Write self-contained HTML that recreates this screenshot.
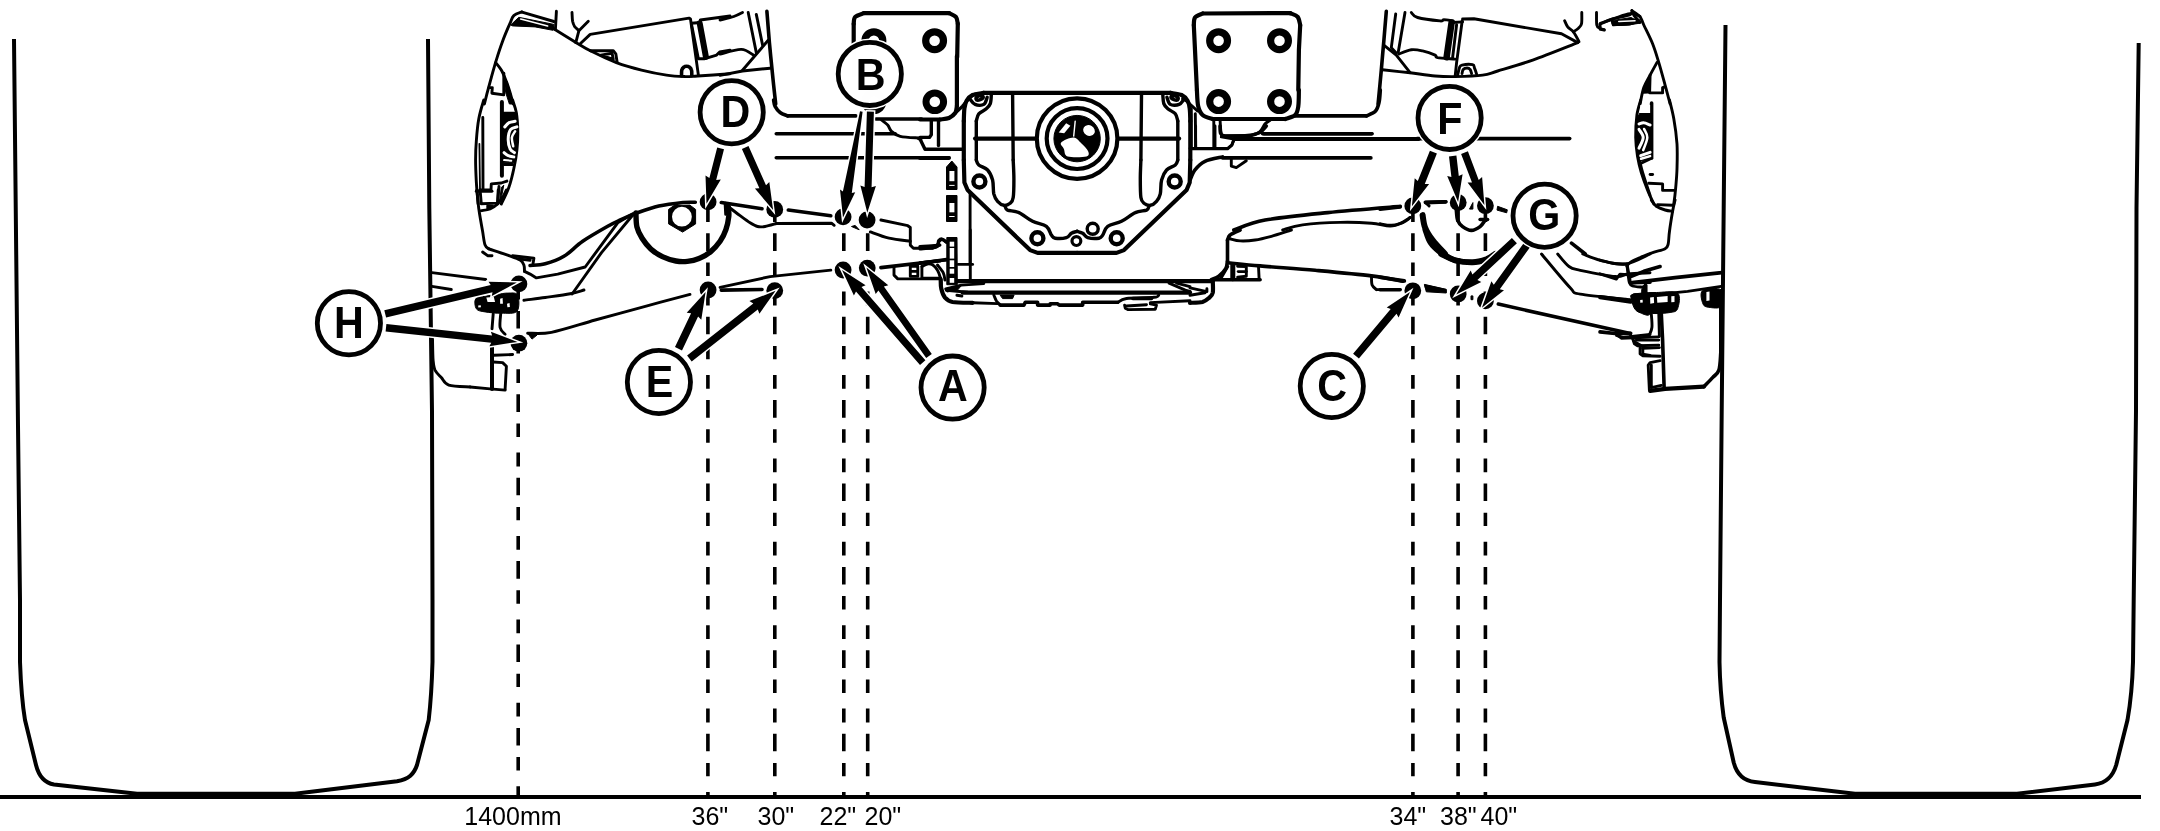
<!DOCTYPE html>
<html>
<head>
<meta charset="utf-8">
<title>Axle tread positions</title>
<style>
html,body{margin:0;padding:0;background:#fff;}
body{width:2160px;height:831px;overflow:hidden;font-family:"Liberation Sans",sans-serif;}
svg{display:block;position:absolute;left:0;top:0;}
.t{fill:none;stroke:#000;stroke-width:4;stroke-linejoin:round;stroke-linecap:butt;}
.k{fill:none;stroke:#000;stroke-width:3.6;stroke-linejoin:round;stroke-linecap:round;}
.m{fill:none;stroke:#000;stroke-width:2.9;stroke-linejoin:round;stroke-linecap:round;}
.K{fill:none;stroke:#000;stroke-width:4.2;stroke-linejoin:round;stroke-linecap:round;}
.M{fill:none;stroke:#000;stroke-width:3.4;stroke-linejoin:round;stroke-linecap:round;}
.n{fill:none;stroke:#000;stroke-width:1.8;stroke-linejoin:round;stroke-linecap:round;}
.d{fill:none;stroke:#000;stroke-width:3.6;stroke-dasharray:17.6 11.6 13.4 15.7 13.8 11.3;}
.c{fill:#fff;stroke:#000;stroke-width:4.8;}
.L{font-family:"Liberation Sans",sans-serif;font-weight:bold;font-size:43.6px;text-anchor:middle;fill:#000;}
.lb{font-family:"Liberation Sans",sans-serif;font-size:25px;fill:#000;}
.a{fill:none;stroke:#000;stroke-width:5;stroke-linecap:butt;}
.h{fill:#000;stroke:none;}
.ar{fill:#000;stroke:#fff;stroke-width:3;paint-order:stroke;stroke-linejoin:miter;}
.f{fill:#000;stroke:#000;stroke-width:1;stroke-linejoin:round;}
.w{fill:none;stroke:#fff;stroke-width:1.6;stroke-linecap:round;}
.wf{fill:#fff;stroke:none;}
</style>
</head>
<body>
<svg width="2160" height="831" viewBox="0 0 2160 831">
<defs><filter id="gs" x="0" y="0" width="100%" height="100%" filterUnits="userSpaceOnUse" color-interpolation-filters="sRGB"><feColorMatrix type="saturate" values="0"/></filter></defs>
<!-- ground -->
<g id="ground">
<line x1="0" y1="797" x2="2141" y2="797" stroke="#000" stroke-width="3.9"/>
</g>
<!-- tires -->
<g id="tires">
<path class="t" d="M14 39 L18 426 L20 600 L20 662 C21 690 23 708 25 720 L36 765 C39 777 45 783 54 784.5 L137 793.8 L295 793.8 L397 781.3 C409 779 414 774 417 765 L428.7 720 C431 700 432 680 432.5 662 L432.5 600 L432 411 L429.3 208 L428 39"/>
<path class="t" d="M1725.5 25 L1723.7 208 L1721.7 411 L1720 600 L1719.5 662 C1720 690 1722 705 1723.7 717.5 L1733.7 762.5 C1737 775 1744 781 1755 782 L1855 793.8 L2017 793.8 L2095 784.5 C2106 783 2113 776 2116.2 765 L2127.5 720 C2131 700 2132.5 680 2133 662 L2133.7 600 L2136 411 L2136.5 208 L2138.7 43"/>
</g>
<!-- AXLE-BEGIN -->
<g id="axle">
<path class="m" d="M522 11.9 C520.6 12.5 515.8 13.8 513.8 15.6 C511.8 17.5 511.9 18.9 510.1 23.2 C508.2 27.4 504.8 35.1 502.6 41.3 C500.3 47.5 498.2 54 496.3 60.1 C494.4 66.1 492.9 72 491.3 77.6 C489.7 83.2 488.1 89.5 486.9 93.9 C485.8 98.3 484.8 102.3 484.4 104"/>
<path class="m" d="M522 12.1 L553.9 21.5"/>
<path class="f" d="M510.7 25 L518.8 17.3 L553.9 24.4 L552.9 30.3 L535.1 26.9 L512.6 25.9Z"/>
<path class="w" d="M520.7 19 L547.6 26"/>
<path class="m" d="M556.4 11.3 L555.4 29.4"/>
<path class="m" d="M572 12.5 C572.1 14 572.2 19 572.6 21.3 C573.1 23.6 573.5 24.7 574.5 26.3 C575.6 27.8 578.2 29.9 578.9 30.7"/>
<path class="m" d="M588.3 21.3 L578.9 30.7 L575.8 42.6"/>
<path class="m" d="M552.9 28.2 C556.6 30.5 568.7 38.1 575.1 41.9 C581.6 45.8 584.5 47.9 591.4 51.3 C598.3 54.8 608.1 59.4 616.4 62.6 C624.8 65.7 633.1 68 641.5 70.1 C649.8 72.2 659.2 74 666.5 75.1 C673.8 76.2 680.1 76.4 685.3 76.6 C690.5 76.7 690.4 76.4 697.8 76 C705.2 75.5 724.6 74.2 730 73.8"/>
<path class="m" d="M580.2 43.8 L590.2 34.4 L689 18.1 L690.5 19 L698.4 75.1"/>
<path class="m" d="M590.2 50.7 L613.3 50.7 L615.8 53.8 L617.1 62"/>
<path class="m" d="M600.8 55.1 L612.1 53.2 L613.3 59.4Z"/>
<path class="k" d="M681.5 75.7 C681.6 74.8 681.4 71.5 681.8 70.1 C682.2 68.6 683.2 67.6 684 67 C684.8 66.3 685.7 66.3 686.5 66.3 C687.4 66.3 688.5 66.3 689.3 67 C690.1 67.6 691.1 68.6 691.5 70.1 C692 71.5 691.7 74.8 691.8 75.7"/>
<path class="m" d="M691.5 23.2 L700.3 22.5"/>
<path class="m" d="M700.3 20 L730 16"/>
<path class="m" style="stroke-width:6" d="M699.7 23.2 L705.9 56.9"/>
<path class="m" d="M691.5 24.4 L698.4 58.8 L704.1 58.8 L716.6 55.1 L719.7 51.9 L730 50.1"/>
<path class="m" d="M495.7 62.6 C496.6 63.8 499.5 67 501.3 70.1 C503.1 73.2 504.8 77.6 506.3 81.4 C507.8 85.1 508.9 88.8 510.1 92.6 C511.2 96.4 512.7 102.1 513.2 104"/>
<path class="f" d="M503.8 75.1 L506.9 81.4 L510.7 93.2 L513.2 104 L509.4 104 L505.7 92.6Z"/>
<path class="m" d="M489 87.6 L492.3 87.6 L491.9 93.2 L503.8 94.9"/>
<path class="m" d="M503.8 73.2 L503.8 93.2"/>
<path class="m" d="M483.8 100 C482.9 103.1 480 111.9 478.8 118.8 C477.5 125.7 476.8 134.4 476.3 141.3 C475.7 148.2 475.6 153.4 475.6 160.1 C475.6 166.8 475.9 174 476.3 181.4 C476.7 188.7 477.8 200.2 478.1 204"/>
<path class="n" d="M479.4 143.8 L480 189.5"/>
<path class="m" d="M482.8 117.5 L483 189.5"/>
<path class="m" d="M512.6 100 C513.2 102.1 515.4 107.3 516.3 112.5 C517.2 117.7 517.7 125 517.8 131.3 C517.9 137.5 517.6 143.8 516.9 150.1 C516.3 156.3 515.2 162.6 513.8 168.8 C512.5 175.1 510.9 181.7 508.8 187.6 C506.7 193.5 502.6 201.3 501.3 204"/>
<path class="m" style="stroke-width:4" d="M501.9 101.9 L501.9 175.7"/>
<path class="f" d="M501.9 113.1 L516.9 113.1 L518.2 131.3 L516.9 150.1 L515.1 162.6 L501.9 162.6Z"/>
<path class="wf" d="M504.1 107.5 L512.6 107.5 L515.1 113.1 L504.1 113.1Z"/>
<path class="m" d="M504.1 113.1 L515.1 113.1"/>
<path class="w" style="stroke-width:3" d="M515.1 121.3 C514 121.5 510.5 121.8 508.8 122.8 C507.1 123.7 505.5 126.2 504.8 126.9"/>
<path class="w" style="stroke-width:3" d="M516.9 126.9 C515.9 127.3 512.1 127.4 510.7 129.4 C509.2 131.4 508.3 135.6 508.2 138.8 C508.1 142 509 146.5 510.1 148.8 C511.1 151.1 513.7 151.9 514.4 152.6"/>
<path class="w" style="stroke-width:2.5" d="M515.1 131.3 C514.5 132.3 512.3 135 511.9 137.5 C511.6 140.1 513 144.8 513.2 146.3"/>
<path class="w" style="stroke-width:3" d="M504.1 152.6 C504.7 153.1 506.6 155 508.2 155.7 C509.8 156.4 512.9 156.7 513.8 156.9"/>
<path class="w" style="stroke-width:2" d="M504.1 160.1 L511.3 160.7"/>
<path class="m" d="M504.1 164.5 L512.6 164.5"/>
<path class="m" d="M480 189.9 L491 189.9 L491.3 183.9 L501.3 183 L506.9 181.1"/>
<path class="m" d="M499 186.4 L497.5 204"/>
<path class="f" d="M501.3 187.6 L503.8 185.1 L501.9 195.1 L499.4 202.6Z"/>
<path class="m" d="M476.9 190 C477.3 193.1 477.9 201.9 478.8 208.8 C479.8 215.7 481.5 225.3 482.6 231.3 C483.6 237.4 484 242.1 485.1 245.1 C486.1 248 488.2 248.2 488.8 248.8"/>
<path class="m" d="M488.8 248.8 C492 249.9 502.4 253.2 507.6 255.1 C512.8 257 517.4 258.4 520.1 260.1 C522.8 261.8 523.1 263.2 523.9 265.1 C524.6 267 524.4 270.3 524.5 271.4"/>
<path class="m" d="M524.5 271.4 L530.1 274.1 L536.4 277.9 L557.7 274.1 L585.2 267 L617.7 222.8 L632.8 213.8"/>
<path class="m" d="M476.3 191.3 L492 191.3"/>
<path class="m" d="M480.1 190 L481.3 203.8 L497.6 203.1 L498.2 190"/>
<path class="m" d="M481.3 210.7 C482.8 210.4 487.4 210.1 490.1 209 C492.8 207.9 495.5 205.9 497.6 204 C499.7 202.1 501.1 199.8 502.6 197.5 C504.1 195.2 505.7 191.3 506.4 190"/>
<path class="m" d="M487.6 206.3 L492.6 206.3 L487.6 208.1"/>
<path class="m" d="M482.6 252 L487.6 255.7 L492 255.7"/>
<path class="m" d="M512.6 255.7 L533.9 258.2 L533 263.8"/>
<path class="m" d="M520.1 259.1 L530.1 260.3"/>
<path class="k" d="M530.1 265.5 C532.6 265.2 539.5 265.4 545.2 263.8 C550.8 262.3 557.7 260.1 563.9 256.3 C570.2 252.6 575.4 246.3 582.7 241.3 C590 236.3 601.5 229.8 607.7 226.3 C614 222.7 615.5 222.2 620.3 220 C625 217.9 629.7 215.6 636.1 213.3 C642.6 211 651 207.9 658.8 206.1 C666.6 204.4 676.9 203.2 683 202.5 C689 201.9 693.3 202.3 695.3 202.3"/>
<path class="m" d="M632.8 215 L601.5 252.6 L572.1 294"/>
<path class="m" d="M431.9 272.6 L485.7 279.5"/>
<path class="m" d="M431.9 286.4 L451.3 289.5"/>
<path class="m" d="M523.9 300.3 C527.4 299.8 537.4 298.6 545.2 297.5 C552.9 296.4 563.7 295 570.2 293.8 C576.7 292.5 581.7 290.6 584 290"/>
<path class="m" d="M527.6 333.2 C531.6 333 540.2 334.5 551.4 332.3 C562.7 330.1 579.6 324.4 595.2 320 C610.9 315.7 629.5 310.5 645.3 306.3 C661.1 302 682.5 296.4 690 294.4"/>
<path class="f" d="M527.6 333.2 L537 335.1 L532 339.1Z"/>
<path class="f" d="M475.7 298.8 C477.2 296.7 481.4 297 485.1 296.3 C488.7 295.5 493.8 294.9 497.6 294.4 C501.4 293.9 504.3 293 507.6 293.1 C510.9 293.2 516.1 292 517.6 295 C519.2 298 519.7 308.3 517 311.3 C514.3 314.3 506.7 313 501.4 313.2 C496 313.3 489.3 312.6 485.1 311.9 C480.9 311.2 477.9 311 476.3 308.8 C474.8 306.6 474.2 300.8 475.7 298.8Z"/>
<path class="wf" d="M486.3 297.5 L493.8 296.9 L495.1 301.9 L487.6 301.9Z"/>
<path class="wf" d="M500.1 298.8 L502.6 298.1 L502.9 303.8 L500.1 303.8Z"/>
<path class="wf" d="M507 303.8 L509.5 303.1 L509.9 306.9 L507.4 307.3Z"/>
<path class="wf" d="M478.2 305.6 L480.7 305.3 L481 307.3 L478.3 307.5Z"/>
<path class="m" d="M493.2 313.8 L492 328.8"/>
<path class="m" d="M500.7 313.8 C500.6 316.1 499.4 324.1 500.1 327.5 C500.8 331 504.3 333.3 505.1 334.4"/>
<path class="m" style="stroke-width:4" d="M492 347.3 L492 388.9"/>
<path class="m" d="M493.8 355.3 L512.6 354.5"/>
<path class="m" d="M493.2 362 L502.6 362.6 L506.4 366.3 L505.1 389.5"/>
<path class="m" d="M432.5 338.8 C432.6 342.4 432.7 354.9 433.1 360.1 C433.6 365.3 433.7 367.2 435 370.1 C436.4 373 439 375.1 441.3 377.6 C443.6 380.1 444 383.6 448.8 385.1 C453.6 386.7 466.5 386.7 470.1 387"/>
<path class="m" d="M470.1 387 L490.1 388.9 L505.1 390.1"/>
<path class="k" d="M721.3 202.5 L762 208.8"/>
<path class="m" d="M725.1 203.1 L725.7 214.4"/>
<path class="m" d="M729.4 207.5 C731.2 208.9 736.6 213.1 740.1 215.7 C743.5 218.2 747.2 221 750.1 222.8 C753 224.6 755.1 225.9 757.6 226.5 C760.1 227.2 762 227 765.1 226.5 C768.2 226 774.5 224 776.4 223.5"/>
<path class="m" d="M776.4 223.5 L831.5 223.2 L834.2 225.3"/>
<path class="k" d="M788.3 210 L830.8 215.7"/>
<path class="m" d="M880.9 220 L907.8 225.7 L910.3 227.5 L910.3 245.1 L913.4 248.2 L932.8 248.2 L940 245.1"/>
<path class="m" d="M870.3 231.9 C873.4 233 882.3 236.6 889 238.2 C895.7 239.7 906.8 240.8 910.3 241.3"/>
<path class="f" d="M851.5 226.5 L855.2 225.4 L859.2 229.8Z"/>
<path class="k" d="M880.9 267.6 L940 260.7"/>
<path class="m" d="M894 267 L894 275.1 L897.8 278.9 L940 278.9"/>
<path class="m" d="M910.3 266.3 L917.8 266.3 L917.8 276.4 L910.3 276.4Z"/>
<path class="m" d="M910.9 271.4 L917.2 271.4"/>
<path class="m" d="M720.1 287.4 L770.1 276.6 L830.8 270.1"/>
<path class="k" d="M721.3 290.1 L762 289.5"/>
<path class="K" d="M983.2 92.9 L1170.9 92.9"/>
<path class="K" d="M983.8 92.9 C982 93.3 975.4 93.7 972.6 95 C969.7 96.4 967.9 98.6 966.6 100.8 C965.2 103.1 964.9 105.2 964.4 108.6 C964 111.9 963.9 119 963.8 121.1"/>
<path class="K" d="M1170.3 92.9 C1172.2 93.3 1178.7 93.7 1181.6 95 C1184.5 96.4 1186.2 98.6 1187.6 100.8 C1188.9 103.1 1189.3 105.2 1189.7 108.6 C1190.2 111.9 1190.2 119 1190.3 121.1"/>
<path class="K" d="M963.8 121.1 L963.8 160"/>
<path class="K" d="M1190.3 121.1 L1190.3 160"/>
<path class="M" d="M991.3 94.8 C991.2 96.3 991.2 101.2 990.3 103.6 C989.5 105.9 988.3 107.1 986.3 108.8 C984.4 110.5 980.5 111.8 978.8 113.8 C977.2 115.9 976.7 119.9 976.3 121.1"/>
<path class="M" d="M1162.8 94.8 C1163 96.3 1163 101.2 1163.8 103.6 C1164.6 105.9 1165.9 107.1 1167.8 108.8 C1169.7 110.5 1173.7 111.8 1175.3 113.8 C1177 115.9 1177.4 119.9 1177.8 121.1"/>
<path class="M" d="M976.3 121.1 L976.3 160"/>
<path class="M" d="M1177.8 121.1 L1177.8 160"/>
<path class="M" d="M970.1 99.2 C970.9 100.1 972.8 103.6 975.1 104.4 C977.4 105.3 981.8 105.6 983.8 104.4 C985.9 103.2 986.6 98.5 987.2 97.3"/>
<path class="M" d="M1184.1 99.2 C1183.2 100.1 1181.4 103.6 1179.1 104.4 C1176.8 105.3 1172.3 105.6 1170.3 104.4 C1168.3 103.2 1167.5 98.5 1166.9 97.3"/>
<ellipse class="M" cx="979.6" cy="97.8" rx="3.8" ry="2" transform="rotate(-20 979.6 97.8)"/>
<ellipse class="M" cx="1174.6" cy="97.8" rx="3.8" ry="2" transform="rotate(20 1174.6 97.8)"/>
<path class="M" d="M1012.6 94.8 L1013.2 160"/>
<path class="M" d="M1141.5 94.8 L1140.9 160"/>
<path class="K" d="M975.1 138.6 L1035.8 138.6"/>
<path class="K" d="M1179.1 138.6 L1118.4 138.6"/>
<circle class="K" cx="1077.1" cy="138.6" r="40.3"/>
<circle class="K" cx="1077.1" cy="138.6" r="30.4"/>
<circle class="f" cx="1077.1" cy="138.6" r="23.2"/>
<ellipse class="wf" cx="1089" cy="130.5" rx="6" ry="5.3" transform="rotate(30 1089 130.5)"/>
<path class="wf" d="M1058.7 132.6 L1066.2 123.3 L1070.4 125.8 L1064.2 133.3Z"/>
<path class="wf" d="M1061.2 142.6 C1062.8 140.7 1070.3 137.4 1073.7 137.6 C1077.1 137.8 1079.1 141.4 1081.5 143.6 C1083.8 145.9 1087.1 149 1088 151.1 C1088.8 153.2 1089.8 155.5 1086.5 156.4 C1083.1 157.3 1071.4 157.6 1067.7 156.4 C1063.9 155.1 1065 151.2 1063.9 148.9 C1062.8 146.6 1059.5 144.5 1061.2 142.6Z"/>
<path class="w" style="stroke-width:1.4" d="M1075.2 121.1 L1073.7 136.1"/>
<path class="K" d="M956.9 56 L956.9 106.1"/>
<path class="K" d="M956.9 106.1 C956.6 107.2 956.6 111 955.3 112.9 C954 114.9 951.6 116.9 949 118 C946.5 119 941.5 119.2 940 119.5"/>
<path class="K" d="M940 119.5 L920 119.5"/>
<circle class="m" style="stroke-width:7" cx="934.8" cy="101.7" r="8.8"/>
<path class="M" d="M952.8 115.1 C954.4 113.6 959.7 109.1 962.6 106.1 C965.4 103 968 98.9 970.1 96.9 C972.1 95 974.2 94.7 975.1 94.3"/>
<path class="M" d="M931.3 121.1 L931.3 134.8 L929.4 137.4 L920 137.4"/>
<path class="M" d="M938.5 121.1 L938.5 145.5"/>
<path class="M" d="M920 138.9 L925 149.2 L963.2 149.2"/>
<path class="K" d="M920 158 L948.8 158"/>
<path class="K" d="M963.8 160 L964.4 182.5 L967.6 190 L1030.1 250.1 L1037.6 252.9 L1077.1 252.9"/>
<path class="K" d="M1190.3 160 L1189.7 182.5 L1186.6 190 L1124 250.1 L1116.5 252.9 L1077.1 252.9"/>
<path class="M" d="M976.3 160 C976.7 160.8 976.9 163.3 978.8 165 C980.7 166.7 985.3 167.5 987.6 170 C989.9 172.5 991.5 176.1 992.6 180 C993.6 184 993 190.2 993.8 193.8 C994.7 197.3 995.9 199.4 997.6 201.3 C999.3 203.2 1001.8 205 1003.9 205.3 C1005.9 205.6 1008.5 204.5 1010.1 203.2 C1011.7 201.9 1012.6 201.6 1013.2 197.5 C1013.9 193.5 1013.9 185 1013.9 178.8 C1013.9 172.5 1013.3 163.1 1013.2 160"/>
<path class="M" d="M1177.8 160 C1177.4 160.8 1177.2 163.3 1175.3 165 C1173.4 166.7 1168.9 167.5 1166.6 170 C1164.3 172.5 1162.6 176.1 1161.6 180 C1160.5 184 1161.1 190.2 1160.3 193.8 C1159.5 197.3 1158.2 199.4 1156.5 201.3 C1154.9 203.2 1152.4 205 1150.3 205.3 C1148.2 205.6 1145.6 204.5 1144 203.2 C1142.5 201.9 1141.5 201.6 1140.9 197.5 C1140.3 193.5 1140.3 185 1140.3 178.8 C1140.3 172.5 1140.8 163.1 1140.9 160"/>
<path class="M" d="M1005.1 206.3 C1005.5 206.9 1005.3 209 1007.6 210.1 C1009.9 211.1 1014.7 210.7 1018.9 212.6 C1023 214.4 1028.1 219 1032.6 221.3 C1037.2 223.6 1043.3 224 1046.4 226.3 C1049.5 228.6 1050 233.1 1051.4 235.1 C1052.9 237.1 1052.7 237.8 1055.2 238.2 C1057.7 238.6 1063.7 238.4 1066.4 237.6 C1069.1 236.8 1069.7 234.3 1071.4 233.2 C1073.2 232.2 1076.1 231.7 1077.1 231.3"/>
<path class="M" d="M1149 206.3 C1148.6 206.9 1148.8 209 1146.5 210.1 C1144.2 211.1 1139.4 210.7 1135.3 212.6 C1131.1 214.4 1126.1 219 1121.5 221.3 C1116.9 223.6 1110.9 224 1107.7 226.3 C1104.6 228.6 1104.2 233.1 1102.7 235.1 C1101.3 237.1 1101.5 237.8 1099 238.2 C1096.5 238.6 1090.4 238.4 1087.7 237.6 C1085 236.8 1084.5 234.3 1082.7 233.2 C1080.9 232.2 1078 231.7 1077.1 231.3"/>
<circle class="m" style="stroke-width:4.4" cx="979.4" cy="181.5" r="6"/>
<circle class="m" style="stroke-width:4.4" cx="1174.7" cy="181.5" r="6"/>
<circle class="m" style="stroke-width:4.4" cx="1037.4" cy="238.2" r="6"/>
<circle class="m" style="stroke-width:4.4" cx="1116.7" cy="238.2" r="6"/>
<circle class="m" style="stroke-width:3.2" cx="1076.4" cy="241.1" r="4.4"/>
<circle class="m" style="stroke-width:3.4" cx="1092.7" cy="228.8" r="5.5"/>
<path class="m" d="M970.1 193.2 L970.1 264"/>
<path class="M" d="M920 246.6 C922.7 246.4 933.1 246.3 936.3 245.4 C939.4 244.4 937.8 241.8 938.8 240.7 C939.7 239.7 940.6 238.9 941.9 239.1 C943.2 239.3 945.8 241.5 946.5 242"/>
<path class="M" d="M920 263.3 L946.5 259.5"/>
<path class="K" d="M957.5 281.1 L1190 281.1"/>
<path class="K" d="M962.6 292.6 L1190 292.6"/>
<path class="K" d="M940.7 279.4 C940.8 281 940.5 285.8 941.3 288.8 C942 291.8 943.2 295.4 945 297.6 C946.9 299.8 948 301.1 952.5 302 C957.1 302.8 969.2 302.7 972.6 302.8"/>
<path class="m" d="M972.6 302.8 L997.6 303.6"/>
<path class="m" d="M945.7 288.8 L961.3 285.1 L983.8 283.6"/>
<path class="m" d="M946.3 290.3 L967.6 292.2"/>
<path class="f" d="M946.9 288.8 L961.3 285.7 L957.5 290.1 L946.9 292Z"/>
<path class="m" d="M956.9 295.3 L961.9 296"/>
<path class="m" d="M993.8 295.1 C994.3 296 995.3 299.1 996.3 300.7 C997.4 302.3 999.5 304.2 1000.1 304.8"/>
<path class="k" d="M1000.1 305.1 L1023.9 305.1 L1025.4 302.2 L1037.6 302.2 L1037.6 305.1 L1050.2 305.1 L1050.2 303.8 L1057.7 303.8 L1059.2 305.1 L1082.7 305.1 L1082.7 302.2 L1117.7 302.2"/>
<path class="f" d="M1000.1 295.1 L1002.6 298.6 L1012.6 298.6 L1014.1 295.1Z"/>
<path class="m" d="M1117.7 302.6 C1119.2 301.9 1120.5 299.3 1126.5 298.5 C1132.6 297.6 1148.7 297.9 1154 297.3 C1159.4 296.8 1157.9 295.5 1158.7 295.1"/>
<path class="k" d="M1132.8 298.5 L1151.5 298.5"/>
<path class="m" d="M1124.6 305.1 L1125.3 308.2 L1127.8 309.6 L1155.3 309.2 L1156.5 305.1 L1150.3 303.8"/>
<path class="m" d="M1126.5 306 L1146.5 304.7"/>
<path class="m" d="M1150.3 302.6 L1190 300.7"/>
<path class="m" d="M1169.1 283.2 L1185.3 290.1 L1190 291.3"/>
<path class="m" d="M1176.6 283.2 L1190 286.6"/>
<path class="m" d="M920 249 C922.7 248.7 933.1 248.3 936.3 247.1 C939.4 246 937.8 243.1 938.8 241.9 C939.7 240.6 940.6 239.6 941.9 239.6 C943.2 239.7 945.8 241.8 946.5 242.3"/>
<path class="m" d="M920 262.8 L932.5 261.5 L946.5 260"/>
<path class="m" d="M940.7 278.2 L921.9 278.2 L921.9 266.5"/>
<path class="m" d="M921.9 266.5 C922.8 266.1 925.7 264.3 927.5 264 C929.3 263.8 930.8 263.8 932.5 264.8 C934.2 265.8 936.2 268 937.5 270.3 C938.9 272.6 940 276.3 940.7 278.8 C941.3 281.3 941.2 284 941.3 285.1"/>
<path class="m" d="M937.5 265 C938.5 266.3 941.9 270.1 943.2 272.6 C944.4 275.1 944.7 278.8 945 280.1"/>
<path class="m" d="M958.2 264.4 L972.6 264.4"/>
<path class="m" d="M970.3 230 L970.3 280.1"/>
<path class="K" d="M1190 281.1 L1212.8 281.1"/>
<path class="K" d="M1212.8 281.3 C1212.8 283.2 1213.3 289.9 1212.8 292.6 C1212.2 295.3 1211.1 296 1209.4 297.6 C1207.7 299.1 1205.7 301.1 1202.5 302 C1199.3 302.8 1192.1 302.7 1190 302.8"/>
<path class="m" d="M1190 287.8 L1206.9 291.6 L1206.9 288.8"/>
<path class="m" d="M1190 295.3 L1205 292.8"/>
<path class="k" d="M1211.3 279.7 C1212.5 279.1 1216.4 278.1 1218.8 276.3 C1221.2 274.5 1224.2 271.3 1225.7 268.8 C1227.1 266.3 1227.2 262.5 1227.5 261.3"/>
<path class="k" d="M1227.5 261.3 L1227.5 240"/>
<path class="k" d="M1227.5 240 C1228 239.2 1228 236.7 1230.1 235 C1232.1 233.3 1238.4 230.8 1240.1 230"/>
<path class="m" d="M1230.1 238.8 C1231.7 239.1 1235.9 240.7 1240.1 240.9 C1244.2 241.1 1249.9 240.8 1255.1 240 C1260.3 239.2 1265.3 237.9 1271.4 236.3 C1277.4 234.6 1288 231 1291.4 230"/>
<path class="k" d="M1227.5 262.8 C1233 263.3 1245.5 264.7 1260.1 265.9 C1274.7 267.2 1296.6 268.6 1315.2 270.3 C1333.7 272 1356.9 274.1 1371.5 275.9 C1386.1 277.8 1397.6 280.4 1402.8 281.3"/>
<path class="m" d="M1221.3 277.8 L1227.8 266.5"/>
<path class="m" style="stroke-width:5" d="M1232.8 264.4 L1232.8 278.8"/>
<path class="m" d="M1237.6 266.3 L1246.3 266.5 L1246.3 276.3 L1237.6 277.1"/>
<path class="m" d="M1238.2 271.6 L1246.3 271.6"/>
<path class="m" d="M1258.5 266.3 L1259.1 278.6"/>
<path class="k" d="M1213.8 279.7 L1260.1 279.7"/>
<path class="m" d="M1371.5 276.3 C1371.6 277.8 1371.3 282.9 1372.1 285.1 C1372.9 287.3 1375.8 288.8 1376.5 289.6"/>
<path class="m" d="M1376.5 289.6 L1400.3 289.6"/>
<path class="f" d="M1424.7 284.8 L1445.9 289.4 L1445.9 292.3 L1425.3 287.8Z"/>
<path class="m" style="stroke-width:5.5" d="M1425.3 230 C1426.1 232.1 1427.8 238.8 1430.3 242.5 C1432.8 246.3 1436.6 249.7 1440.3 252.5 C1444.1 255.3 1449.6 258 1452.8 259.4 C1456.1 260.9 1458.8 261 1460 261.3"/>
<path class="k" d="M1263.8 133.8 L1372.1 133.8"/>
<path class="k" d="M1233.8 139.1 L1419 139.1"/>
<path class="k" d="M1222.5 157.9 L1370.9 157.9"/>
<path class="k" d="M1190 180.1 C1190.8 178.4 1192.5 172.9 1195 169.8 C1197.5 166.7 1200.4 163.4 1205 161.3 C1209.6 159.1 1219.6 157.6 1222.5 156.9"/>
<path class="m" d="M1231.3 159.2 L1231.3 166.1 L1236.3 167.6 L1246.3 160.7"/>
<path class="k" d="M1220 126 C1220.1 127.3 1220 131.8 1220.7 133.5 C1221.3 135.2 1223.3 135.6 1223.8 136"/>
<path class="k" d="M1223.8 136 L1250.1 135.8"/>
<path class="k" d="M1250.1 135.8 C1251.7 135.2 1257.4 133.9 1260.1 132.3 C1262.8 130.6 1265.3 127 1266.3 126"/>
<path class="m" d="M1190 148.5 L1227.5 148.5 L1231.9 144.8 L1233.8 139.5"/>
<path class="m" d="M1221.3 136.9 L1232.6 138.8"/>
<path class="m" d="M1195.6 126 L1195.6 147.5"/>
<path class="m" d="M1215 126 L1215 147.5"/>
<path class="k" d="M1233.8 230 C1239 228.4 1249.4 223 1265.1 220.1 C1280.7 217.2 1305.1 214.9 1327.7 212.6 C1350.2 210.3 1388.2 207.4 1400.3 206.4"/>
<path class="m" d="M1282.6 230 C1286 229.1 1293 226.1 1302.6 224.9 C1312.2 223.6 1328.7 222.6 1340.2 222.4 C1351.7 222.1 1363.1 222.6 1371.5 223.2 C1379.8 223.9 1385 226.2 1390.3 226.1 C1395.5 226 1399.4 224 1402.8 222.6 C1406.1 221.2 1409 218.4 1410.3 217.6"/>
<path class="k" d="M1425.3 202.3 L1445.9 201.7"/>
<path class="k" d="M1380 209.1 L1400 206.9"/>
<path class="k" d="M1425.7 202.6 L1445.7 201.9"/>
<path class="m" d="M1425.7 202.6 L1429.1 205.9"/>
<path class="m" style="stroke-width:6" d="M1422.6 215.1 C1423 217.2 1423.4 223.4 1425.1 227.6 C1426.7 231.8 1429.2 235.7 1432.6 240.1 C1435.9 244.5 1443 251.7 1445.1 254"/>
<path class="k" d="M1456.3 210.1 C1456.6 211.7 1456.6 217.3 1457.6 220.1 C1458.6 222.8 1460.3 224.9 1462.6 226.6 C1464.9 228.3 1468.4 230.4 1471.4 230.4 C1474.3 230.4 1477.8 228.3 1480.1 226.6 C1482.4 224.9 1484.3 221.4 1485.1 220.3"/>
<path class="k" d="M1480.1 219.5 L1487.6 219.5"/>
<path class="m" d="M1380 223.8 C1381.9 224.1 1387.9 225.4 1391.3 225.3 C1394.6 225.3 1396.9 224.8 1400 223.5 C1403.2 222.2 1408.4 218.6 1410 217.6"/>
<path class="f" d="M1469.5 209.1 L1472.9 202.6 L1472.9 209.1Z"/>
<path class="f" d="M1497.6 206.3 L1507.3 209.8 L1506.7 212.8 L1497 210.1Z"/>
<path class="k" d="M1571.5 243.2 L1585.3 254"/>
<path class="m" d="M1637.8 150 C1638.4 153.1 1639.6 161.3 1641.6 168.8 C1643.6 176.3 1648.6 190.7 1650 195.1"/>
<path class="m" d="M1641.6 155.3 L1650 152.8"/>
<path class="m" d="M1642.2 162.8 L1650 159"/>
<path class="m" style="stroke-width:6" d="M1441.3 254 C1443.6 255 1449.9 258.9 1455.1 260.3 C1460.3 261.6 1467.4 262.4 1472.6 262.3 C1477.8 262.1 1482.6 260.6 1486.4 259.3 C1490.1 257.9 1493.7 254.9 1495.1 254"/>
<path class="k" d="M1380 277.2 L1404.4 280.9"/>
<path class="k" d="M1380 289.7 L1400 289.7"/>
<path class="f" d="M1424.4 284.4 L1446.3 289.4 L1446.3 293 L1426.3 291.8Z"/>
<path class="f" d="M1471 295.9 L1472.9 295.9 L1472.9 299.7 L1471 299.7Z"/>
<path class="k" d="M1498.3 304.1 L1630.3 333.5"/>
<path class="m" d="M1541.5 254 C1546.2 259.6 1563.8 281.1 1570.2 287.8 C1576.7 294.5 1570.2 292.1 1580.3 294.1 C1590.3 296 1622 298.7 1630.3 299.7"/>
<path class="m" d="M1557.7 254 C1559.6 256.1 1565.2 263.8 1569 266.5 C1572.7 269.2 1572.5 268.6 1580.3 270.3 C1588 271.9 1607.4 275.9 1615.3 276.5 C1623.2 277.2 1622 274.7 1627.8 274 C1633.6 273.4 1646.3 273 1650 272.8"/>
<path class="m" d="M1582.8 254 C1585.7 255 1593.2 258.6 1600.3 260.3 C1607.4 261.9 1617 265.1 1625.3 264 C1633.6 263 1645.9 255.7 1650 254"/>
<path class="m" d="M1627.2 265.3 L1630.3 281.8"/>
<path class="k" d="M1631.6 282.8 L1650 282.2"/>
<path class="m" d="M1645.3 284 L1645.3 295.3"/>
<path class="f" d="M1631.6 295.3 C1632.6 293 1637.3 293.8 1640.3 294.1 C1643.4 294.3 1648.4 293.2 1650 296.6 C1651.6 299.9 1651.6 311.4 1650 314.1 C1648.4 316.8 1643 313.9 1640.3 312.8 C1637.7 311.8 1635.5 310.7 1634.1 307.8 C1632.6 304.9 1630.5 297.6 1631.6 295.3Z"/>
<path class="m" d="M1616.5 335.4 L1622.8 337.5 L1650 334.4"/>
<path class="m" d="M1630.3 334.4 L1634.1 341.6 L1642.8 346.6 L1642.8 354.1 L1650 355.4"/>
<path class="k" d="M1386.3 11.3 C1385.9 16.3 1384.6 31.5 1383.8 41.3 C1382.9 51.1 1382.2 59.6 1381.3 70.1 C1380.3 80.5 1378.7 98.4 1378.1 104"/>
<path class="m" d="M1395.7 14 L1391.3 47.6 L1396 52.8"/>
<path class="m" d="M1405 12.5 L1398.2 52.6"/>
<path class="m" d="M1383.8 45.1 L1396.3 55.1 L1410.1 72.6"/>
<path class="m" d="M1382.5 69.7 C1387.1 70.2 1401.3 71.8 1410.1 72.8 C1418.8 73.9 1427.6 75.3 1435.1 76 C1442.6 76.6 1447.2 76.7 1455.1 76.6 C1463 76.4 1475.5 76 1482.6 75.1 C1489.7 74.2 1489.3 73.5 1497.7 71 C1506 68.5 1519.4 64.8 1532.7 60.1 C1546.1 55.3 1570.3 45.5 1577.8 42.6"/>
<path class="m" d="M1411.3 12.5 C1412.3 13.4 1412.8 16.1 1417.6 17.5 C1422.4 18.9 1435.7 20.5 1440.1 20.9 C1444.5 21.3 1441.7 19.6 1443.8 19.6 C1446 19.6 1451.7 20.7 1453.2 20.9"/>
<path class="m" d="M1398.8 54.1 C1400.9 53.3 1407.3 50.2 1411.3 49.7 C1415.3 49.2 1418.6 50 1422.6 50.9 C1426.5 51.8 1432.6 54 1435.1 55.1 C1437.6 56.2 1434.2 56.9 1437.6 57.6 C1440.9 58.2 1452.2 58.8 1455.1 59.1"/>
<path class="m" style="stroke-width:6.5" d="M1451.6 22.5 L1446.6 57.3"/>
<path class="m" d="M1456.6 24.7 L1452.6 57.6"/>
<path class="m" d="M1462.2 20.7 L1456.6 62.6 L1455.1 76.6"/>
<path class="m" d="M1452.6 22.5 L1462.6 21.9"/>
<path class="m" d="M1462.6 19 L1473.9 18.8 L1561.5 33.8 L1577.8 42.6"/>
<path class="m" d="M1564.6 20.7 C1565.1 21.7 1566.3 25 1567.7 26.9 C1569.2 28.8 1571.5 29.5 1573.4 31.9 C1575.3 34.4 1578.1 39.9 1579 41.6"/>
<path class="m" d="M1581.8 12.5 C1581.7 14.4 1582.1 21.2 1581.5 23.8 C1581 26.4 1579.7 26.8 1578.4 28.2 C1577 29.5 1574.2 31.3 1573.4 31.9"/>
<path class="m" d="M1457.6 75.3 C1457.9 74.1 1458.8 69.3 1459.5 67.6 C1460.2 65.9 1459.8 65.6 1462 65.1 C1464.2 64.6 1470.5 64.2 1472.6 64.7 C1474.7 65.2 1473.8 66.6 1474.5 68.2 C1475.2 69.8 1476.3 73.1 1476.6 74.1"/>
<path class="m" d="M1462 73.5 C1462.2 72.8 1462.4 70.4 1463.2 69.5 C1464.1 68.5 1465.8 68 1467 68 C1468.1 68 1469.4 68.5 1470.1 69.5 C1470.9 70.4 1471.4 72.8 1471.6 73.5"/>
<path class="m" d="M1596.5 12.5 C1596.6 14.6 1596.3 22.4 1596.8 25 C1597.3 27.6 1598.5 27.4 1599.7 28.2 C1600.9 28.9 1603.3 29.4 1604 29.7"/>
<path class="m" d="M1600.3 23.4 C1603.6 22.2 1615.1 17.9 1620.3 16.3 C1625.5 14.6 1628.3 13.4 1631.6 13.4 C1634.9 13.4 1638.6 15.8 1640 16.3"/>
<path class="f" d="M1611.6 22.5 L1635.3 18.8 L1640 20 L1640 23.2 L1627.8 25 L1612.8 25.7Z"/>
<path class="m" d="M1631.9 10.6 C1633.3 11.7 1638.1 14.5 1640.1 16.9 C1642 19.3 1641.7 20.5 1643.8 25 C1645.9 29.5 1650.1 37.5 1652.6 43.8 C1655.1 50.1 1656.7 55.7 1658.8 62.6 C1660.9 69.5 1663.2 78.2 1665.1 85.1 C1667 92 1669.3 100.9 1670.1 104"/>
<path class="m" d="M1600 24 C1602.1 23.2 1607.5 20.6 1612.5 19 C1617.5 17.5 1626.8 16 1630 14.6 C1633.3 13.2 1631.6 11.3 1631.9 10.6"/>
<path class="m" d="M1633.8 15.3 L1640.1 22.5"/>
<path class="f" d="M1611.3 20.7 L1631.3 17.5 L1638.8 22.3 L1630 25 L1612.5 25.7Z"/>
<path class="w" d="M1618.8 21.5 L1635 20.7"/>
<path class="m" d="M1600 24.4 L1600.3 29.4 L1604.4 30"/>
<path class="m" d="M1656.9 62.6 C1655.8 64.7 1652.3 70.9 1650.1 75.1 C1647.9 79.3 1645.5 82.8 1643.8 87.6 C1642.1 92.4 1640.7 101.3 1640.1 104"/>
<path class="m" d="M1650.1 75.1 L1649.6 92.9 L1662.6 92.9 L1662.6 87.6 L1664.5 87"/>
<path class="f" d="M1644.1 87.6 L1649.6 77.6 L1649.6 92.9 L1643.2 93.2Z"/>
<path class="m" d="M1669.5 100 C1670.2 103.1 1672.6 111.5 1673.8 118.8 C1675.1 126.1 1676.4 135.5 1677 143.8 C1677.5 152.1 1677.2 161.5 1677 168.8 C1676.8 176.1 1676.2 181.7 1675.7 187.6 C1675.2 193.5 1674.2 201.3 1673.8 204"/>
<path class="m" d="M1640.7 100 C1640.1 102.5 1637.8 108.8 1636.9 115 C1636.1 121.3 1635.6 130.7 1635.7 137.5 C1635.8 144.4 1636.6 150.5 1637.5 156.3 C1638.5 162.2 1639.6 167 1641.3 172.6 C1643 178.2 1645.5 184.9 1647.6 190.1 C1649.6 195.3 1652.8 201.7 1653.8 204"/>
<path class="m" style="stroke-width:3.6" d="M1651.6 103.1 L1651.6 158.2"/>
<path class="f" d="M1639.8 113.1 L1651.6 113.1 L1651.6 158.2 L1641.3 161 L1637.5 156.3 L1635.7 137.5 L1636.9 118.8Z"/>
<path class="wf" d="M1640.3 105 L1650.1 105 L1650.1 113.1 L1639.8 113.1Z"/>
<path class="w" style="stroke-width:3" d="M1650.1 125 C1649 124.7 1645.6 122.9 1643.8 122.8 C1642 122.6 1639.8 123.8 1639 124"/>
<path class="w" style="stroke-width:3" d="M1639 129.4 C1639.7 130.8 1643.2 134.4 1643.2 137.5 C1643.2 140.7 1639.7 146.4 1639 148.2"/>
<path class="w" style="stroke-width:2.5" d="M1644.1 129 C1644.6 130.5 1647.5 134 1647.3 137.5 C1647.2 141.1 1643.9 148 1643.2 150.1"/>
<path class="w" style="stroke-width:3" d="M1640.7 155.7 L1650.1 152.3"/>
<path class="w" style="stroke-width:2.5" d="M1641.1 158.8 L1650.1 156.1"/>
<path class="m" d="M1648.8 183.2 L1662.6 183.9 L1662.6 190.4 L1674.7 190.4"/>
<path class="m" d="M1650.1 174.5 L1652.6 174.5"/>
<path class="m" d="M1651.3 200 C1652.1 201 1654 204.6 1656.3 206.3 C1658.6 207.9 1662.4 209.2 1665.1 210 C1667.8 210.8 1671.3 211.1 1672.6 211.3"/>
<path class="m" d="M1657.6 204.6 L1672.6 205.3"/>
<path class="m" d="M1675.1 200 C1674.7 201.9 1673.5 206 1672.6 211.3 C1671.7 216.5 1670.2 225.9 1669.5 231.3 C1668.7 236.7 1668.9 240.9 1668.2 243.8 C1667.5 246.7 1667.7 247.4 1665.1 248.8 C1662.5 250.3 1656.7 251.1 1652.6 252.6 C1648.4 254 1643.8 255.9 1640.1 257.6 C1636.3 259.2 1632.2 261.1 1630 262.6 C1627.8 264 1627.4 265.7 1626.9 266.3"/>
<path class="m" d="M1600 260.1 C1602.1 260.6 1608 262.5 1612.5 263.2 C1617 263.9 1624.5 263.9 1626.9 264.1"/>
<path class="m" d="M1626.9 264.1 C1627.1 265.9 1627.7 272 1628.2 275.1 C1628.6 278.2 1628.7 280.8 1629.4 282.6 C1630.1 284.4 1630.4 285.2 1632.5 286 C1634.7 286.8 1640.9 287 1642.6 287.2"/>
<path class="m" d="M1600 273.8 L1616.3 279.1 L1620 274.1 L1628.2 274.7"/>
<path class="k" d="M1631.3 276.3 L1643.8 271.3 L1660.1 266.6"/>
<path class="k" d="M1632.5 282.6 L1675.1 277.6 L1721.7 272.6"/>
<path class="m" d="M1643.8 286.4 L1643.8 304"/>
<path class="m" d="M1646.1 285.4 L1646.1 295.4"/>
<path class="m" d="M1650.1 295.1 L1687.6 291.4 L1721.2 286.4"/>
<path class="m" d="M1600 296.4 L1630 300.1"/>
<path class="k" d="M1661.3 313.8 L1662.6 340.1 L1664.1 387"/>
<path class="K" d="M1650.1 390.8 L1665.1 388.9 L1703.9 386.6"/>
<path class="k" d="M1703.9 386.6 C1705.3 385.1 1710.1 380.4 1712.6 377.6 C1715.1 374.9 1717.5 374.3 1718.9 370.1 C1720.3 365.9 1720.5 355.5 1720.8 352.6"/>
<path class="k" d="M1720.8 352.6 L1720.8 306.3"/>
<path class="m" d="M1660.1 360.7 L1650.1 362.6 L1648.2 365.1 L1649.4 390.1"/>
<path class="m" d="M1651.3 365.1 L1651.3 387.6 L1661.3 385.4"/>
<path class="k" d="M1600 331.9 L1617.5 333.8 L1630.7 333.2"/>
<path class="m" d="M1617.5 335.1 L1621.3 338.2 L1658.8 336.9"/>
<path class="m" d="M1633.2 340.1 L1634.4 343.8 L1637.5 345.7 L1658.8 345.1"/>
<path class="m" d="M1636.3 340.1 L1658.8 340.1"/>
<path class="m" d="M1640.1 346.9 L1640.1 353.8 L1642.6 355.7 L1660.1 356.3"/>
<path class="m" d="M1642.6 348.2 L1659.4 347.6"/>
<path class="m" d="M1651.3 313.8 C1651.4 316.1 1652.4 323.8 1651.9 327.5 C1651.5 331.3 1649.3 334.8 1648.8 336.3"/>
<path class="m" d="M1658.8 313.8 L1659.4 336.3"/>
<path class="f" d="M1630.7 295.6 C1631.6 293.9 1637 293.7 1641.3 293.1 C1645.6 292.6 1650.3 292.5 1656.3 292.5 C1662.4 292.5 1674.1 290.4 1677.6 293.1 C1681.1 295.8 1678.8 305.5 1677.6 308.8 C1676.3 312 1674.3 311.7 1670.1 312.5 C1665.9 313.3 1658 313.7 1652.6 313.5 C1647.1 313.3 1640.4 312.9 1637.5 311.3 C1634.7 309.6 1636.8 306.4 1635.7 303.8 C1634.5 301.2 1629.7 297.4 1630.7 295.6Z"/>
<path class="wf" d="M1650.1 297.5 L1653.8 296.9 L1654.1 303.1 L1650.3 303.8Z"/>
<path class="wf" d="M1656.9 296.9 L1667.6 296 L1667.6 301.9 L1657.3 302.8Z"/>
<path class="wf" d="M1671.3 296.3 L1674.5 296 L1674.5 301.9 L1671.3 302.3Z"/>
<path class="wf" d="M1640.1 300 L1642.6 299.8 L1642.8 302.5 L1640.3 302.8Z"/>
<path class="f" d="M1702.6 290.6 C1705.7 288.3 1718.3 287.4 1721.4 290 C1724.5 292.6 1723.5 303.4 1721.4 306.3 C1719.3 309.1 1712 307.7 1708.9 307.3 C1705.8 306.9 1703.9 306.5 1702.9 303.8 C1701.8 301 1699.5 292.9 1702.6 290.6Z"/>
<path class="wf" d="M1706.4 291.9 L1709.5 291.5 L1709.5 300.6 L1706.4 301Z"/>
<path class="k" d="M1600 297.5 L1630.7 301.9"/>
<path class="m" d="M1642.6 290 L1642.6 295"/>
<path class="K" d="M853.7 75.1 L853.7 23.8"/>
<path class="K" d="M853.7 23.8 C853.9 22.6 853.5 18.7 855.2 16.9 C856.9 15.1 862.5 13.8 863.9 13.1"/>
<path class="K" d="M863.9 13.1 L949 13.1"/>
<path class="K" d="M949 13.1 C950.2 13.8 954.5 15.1 955.9 16.9 C957.4 18.7 957.5 22.6 957.8 23.8"/>
<path class="K" d="M957.8 23.8 L957.2 57.1"/>
<circle class="m" style="stroke-width:7.2" cx="934.6" cy="40.7" r="8.9"/>
<circle class="m" style="stroke-width:7.2" cx="873.9" cy="40.7" r="8.9"/>
<circle class="m" style="stroke-width:7.2" cx="873.9" cy="101.6" r="8.9"/>
<path class="m" d="M720 20 C722.3 19.4 730 17.8 733.8 16.5 C737.5 15.3 741.1 13.2 742.5 12.5"/>
<path class="m" d="M748.2 12.5 L756.3 52.6"/>
<path class="m" d="M756.3 14.4 L762.6 45.1"/>
<path class="k" d="M766.9 11.3 C767.4 16.5 768.5 31.9 769.4 42.6 C770.4 53.2 771.5 64.9 772.6 75.1 C773.6 85.3 775.2 99.2 775.7 104"/>
<path class="m" d="M720 54.1 C723.5 53.3 735.6 49.2 741.3 49.4 C746.9 49.6 751.7 54.3 753.8 55.3"/>
<path class="m" d="M768.2 40.3 L742.5 70.3"/>
<path class="m" d="M720 75.3 L742.5 71 L770.1 68.2"/>
<path class="k" d="M773.6 100 C773.8 101 774 104.2 775.1 106.3 C776.2 108.3 778 110.9 780.1 112.5 C782.2 114.1 786.3 115.3 787.6 115.9"/>
<path class="k" d="M787.6 115.9 L855.8 115.9"/>
<path class="k" d="M875.8 119 L921.5 119"/>
<path class="k" d="M776.3 133.8 L895.2 133.8"/>
<path class="k" d="M776.3 157.8 L949 157.8"/>
<path class="m" d="M881.5 120 C882.5 120.9 886 123.2 887.7 125 C889.4 126.9 889.4 129.4 891.5 131.3 C893.6 133.2 895.8 135.2 900.2 136.3 C904.6 137.4 914.2 137.7 917.7 137.9 C921.3 138.1 920.9 137.6 921.5 137.5"/>
<path class="m" d="M917.7 138.2 L920.9 139.8"/>
<path class="K" d="M1193.8 25 C1194 23.8 1193.6 19.4 1195 17.5 C1196.5 15.6 1201.3 14.2 1202.6 13.5"/>
<path class="K" d="M1202.6 13.5 L1290.2 13.1"/>
<path class="K" d="M1290.2 13.1 C1291.4 13.8 1296 14.9 1297.7 16.9 C1299.3 18.9 1299.8 23.7 1300.2 25"/>
<path class="K" d="M1193.8 25 L1195 50.1 L1196.9 90.1"/>
<path class="K" d="M1300.2 25 L1298.9 50.1 L1298.3 90.1"/>
<circle class="m" style="stroke-width:7.2" cx="1218.6" cy="40.7" r="8.9"/>
<circle class="m" style="stroke-width:7.2" cx="1279.5" cy="40.7" r="8.9"/>
<circle class="m" style="stroke-width:7.2" cx="1218.6" cy="101.6" r="8.9"/>
<circle class="m" style="stroke-width:7.2" cx="1279.5" cy="101.6" r="8.9"/>
<path class="K" d="M1196.9 90 C1197.1 92.7 1197.2 102.1 1198.2 106.3 C1199.1 110.4 1200.2 112.9 1202.6 115 C1205 117.2 1210.9 118.4 1212.6 119"/>
<path class="K" d="M1212.6 119 L1285.2 119"/>
<path class="K" d="M1285.2 119 C1286.8 118.4 1293 117.2 1295.2 115 C1297.4 112.9 1297.7 110.4 1298.3 106.3 C1298.9 102.1 1298.8 92.7 1298.9 90"/>
<path class="k" d="M1295.2 115.9 L1366.5 115.9"/>
<path class="k" d="M1366.5 115.9 C1368 115.1 1373.2 113.5 1375.3 111.3 C1377.4 109 1378.2 106.1 1379 102.5 C1379.9 99 1380.1 92.1 1380.3 90"/>
<path class="k" d="M1262.6 133.8 L1371.5 133.8"/>
<path class="k" d="M1233.8 138.8 L1417.8 138.8"/>
<path class="m" d="M1220.1 120.7 C1220.3 122.9 1220.5 131.3 1221.3 133.8 C1222.2 136.3 1219.9 135.8 1225.1 135.9 C1230.3 136.1 1246.8 135.5 1252.6 134.7 C1258.5 133.9 1258 133.1 1260.1 131.3 C1262.2 129.5 1263.5 125.6 1265.1 123.8 C1266.8 122 1269.3 120.9 1270.1 120.3"/>
<path class="m" d="M1213.8 120.7 L1213.8 147.6"/>
<path class="m" d="M1191.3 108.8 L1191.3 147.8"/>
<path class="m" d="M1195.3 113.8 L1195.7 147.8"/>
<path class="m" d="M1191.3 148.8 L1227.6 148.8 L1232 145.1 L1234.1 139.4"/>
<path class="m" d="M1197.5 111 C1195.8 109.4 1189.4 103.3 1186.9 101.3 C1184.4 99.2 1183.3 99.2 1182.5 98.8"/>
<path class="k" d="M1417 138.6 L1569.7 138.6"/>
<path class="m" style="stroke-width:5.4" d="M635.9 213 C636.1 215.3 635.9 222.6 636.9 226.8 C637.9 231 639.8 234.6 642.1 238.3 C644.4 242 647.4 245.8 650.8 248.9 C654.2 252 658.2 254.6 662.4 256.6 C666.6 258.6 671.7 260.2 675.9 261 C680.1 261.8 683.5 261.8 687.4 261.4 C691.2 261 695.1 260.2 699 258.6 C702.9 257 707 254.7 710.5 251.8 C714 248.9 717.5 244.9 720.1 241.2 C722.7 237.5 724.5 233.9 725.9 229.7 C727.3 225.5 728.4 220 728.8 216.2 C729.2 212.3 728.4 208.2 728.3 206.6"/>
<path class="f" d="M668.6 209.4 L673.9 205.6 L689.8 205.1 L695.6 209.4 L695.6 223.9 L682.6 232.1 L668.6 223.9Z"/>
<circle class="wf" cx="681.9" cy="216.7" r="9.9"/>
<path class="f" d="M946.5 167 L951.8 161 L957 167 L957 189.5 L946.5 189.5Z"/>
<path class="wf" d="M949.4 171 L954.4 171 L954.4 181.2 L949.4 181.2Z"/>
<path class="w" style="stroke-width:1" d="M949.6 185.4 L954.2 185.4"/>
<path class="f" d="M946.5 195.5 L957 195.5 L957 221.5 L946.5 221.5Z"/>
<path class="wf" d="M949.4 203 L954.4 203 L954.4 212.3 L949.4 212.3Z"/>
<path class="w" style="stroke-width:1" d="M949.6 216.5 L954.2 216.5"/>
<path class="f" d="M946.8 237.5 L957 237.5 L957.3 284.7 L946.8 284.7Z"/>
<path class="wf" d="M949.7 241.7 L954.2 241.7 L954.2 246.6 L949.7 246.6Z"/>
<path class="wf" d="M949.7 248 L954.2 248 L954.2 258.6 L949.7 258.6Z"/>
<path class="wf" d="M949.7 260.3 L954.2 260.3 L954.2 267 L949.7 267Z"/>
<path class="wf" d="M949.7 268.7 L954.2 268.7 L954.2 273.7 L949.7 273.7Z"/>
<path class="wf" d="M949.7 278 L954.2 278 L954.2 282.8 L949.7 282.8Z"/>
</g>
<!-- AXLE-END -->
<!-- dashed -->
<g id="dashes">
<path class="d" stroke-dashoffset="56.50" d="M518.2 284 V797"/>
<path class="d" stroke-dashoffset="52.10" d="M707.9 202 V797"/>
<path class="d" stroke-dashoffset="59.10" d="M774.8 209 V797"/>
<path class="d" stroke-dashoffset="67.10" d="M843.8 217 V797"/>
<path class="d" stroke-dashoffset="70.10" d="M867.7 220 V797"/>
<path class="d" stroke-dashoffset="56.10" d="M1412.9 206 V797"/>
<path class="d" stroke-dashoffset="53.10" d="M1458.1 203 V797"/>
<path class="d" stroke-dashoffset="56.10" d="M1485.4 206 V797"/>
</g>
<!-- dots -->
<g id="dots" fill="#000">
<circle cx="518.9" cy="283.9" r="8.4"/><circle cx="518.9" cy="343.2" r="8.4"/><circle cx="708.1" cy="290" r="8.4"/><circle cx="774.75" cy="290.6" r="8.4"/><circle cx="843.1" cy="270" r="8.4"/><circle cx="867.25" cy="268.1" r="8.4"/><circle cx="843.1" cy="216.9" r="8.4"/><circle cx="867.1" cy="220" r="8.4"/><circle cx="708.1" cy="201.9" r="8.4"/><circle cx="774.75" cy="209.4" r="8.4"/><circle cx="1412.8" cy="205.9" r="8.4"/><circle cx="1458.2" cy="202.6" r="8.4"/><circle cx="1485.4" cy="205.7" r="8.4"/><circle cx="1412.8" cy="290.8" r="8.4"/><circle cx="1458.2" cy="294" r="8.4"/><circle cx="1485.4" cy="300.9" r="8.4"/>
</g>
<g id="arrows">
<path class="ar" d="M717.2 147.5 L709.4 178.1 L705.5 175.6 L706.5 203.7 L720.8 179.5 L716.2 179.9 L724 149.3Z"/>
<path class="ar" d="M741.9 149 L759.4 188.2 L754.9 188.6 L773.1 210 L769.3 182.1 L766 185.2 L748.5 146Z"/>
<path class="ar" d="M860 111.3 L842.9 191.6 L840 189.6 L843 217.5 L855.2 192.2 L851.8 193.1 L862.6 111.7Z"/>
<path class="ar" d="M866.9 111.6 L864.6 187.1 L860.4 185.5 L867.3 212.7 L875.9 186 L871.6 187.3 L873.9 111.8Z"/>
<path class="ar" d="M682 350.4 L698.1 316.6 L701.3 319.8 L705.6 291.9 L686.7 312.8 L691.1 313.3 L675 347Z"/>
<path class="ar" d="M691.7 361.4 L757.8 309.5 L759.4 313.8 L775.6 290.8 L749.4 301.1 L753.3 303.6 L687.1 355.6Z"/>
<path class="ar" d="M925.4 360.3 L861.5 286.9 L865.6 285.3 L842 270 L853.9 295.5 L856 291.6 L920 365.1Z"/>
<path class="ar" d="M931.8 354 L883.9 286.4 L888.3 285.2 L866.4 267.6 L875.7 294.1 L878.4 290.4 L926.2 358Z"/>
<path class="ar" d="M386.1 317.5 L492.5 292.2 L491.8 295.9 L516.9 282.5 L488.5 281.8 L490.7 284.9 L384.3 310.3Z"/>
<path class="ar" d="M385.6 331.4 L491.2 342.8 L489.4 346.2 L517.5 341.9 L490.9 331.7 L492.1 335.4 L386.4 324Z"/>
<path class="ar" d="M1358.9 358.6 L1396.5 313.8 L1398.6 317.6 L1410 291.9 L1386.7 307.6 L1390.7 309 L1353.1 353.8Z"/>
<path class="ar" d="M1429.9 150.8 L1417.8 181.1 L1414.7 178.2 L1411.9 206.2 L1429.1 184 L1424.8 183.9 L1436.9 153.6Z"/>
<path class="ar" d="M1449 156.4 L1451.4 177 L1447.2 176 L1458.1 201.9 L1462.6 174.2 L1458.8 176.1 L1456.4 155.6Z"/>
<path class="ar" d="M1461.1 153.9 L1472 182.4 L1467.6 182.5 L1484.4 205 L1482.1 177 L1478.7 179.9 L1467.9 151.3Z"/>
<path class="ar" d="M1511.9 237.9 L1472.4 274.5 L1470.7 270.6 L1456.2 294.6 L1481.3 281.9 L1477.4 280 L1516.9 243.3Z"/>
<path class="ar" d="M1524 242.8 L1493.8 284.8 L1491.4 281.3 L1481.9 307.7 L1504 290.3 L1499.8 289.2 L1530 247.2Z"/>
</g>
<!-- callouts -->
<g id="callouts" opacity="0.999">
<circle fill="#fff" cx="731.7" cy="112.25" r="35.5"/><circle class="c" cx="731.7" cy="112.25" r="31.6"/><text class="L" transform="translate(735.4 126.9) scale(0.945 1)">D</text>
<circle fill="#fff" cx="869.8" cy="73.9" r="35.5"/><circle class="c" cx="869.8" cy="73.9" r="31.6"/><text class="L" transform="translate(870.6 89.75) scale(0.945 1)">B</text>
<circle fill="#fff" cx="658.9" cy="382" r="35.5"/><circle class="c" cx="658.9" cy="382" r="31.6"/><text class="L" transform="translate(659.6 396.75) scale(0.945 1)">E</text>
<circle fill="#fff" cx="952.6" cy="387.6" r="35.5"/><circle class="c" cx="952.6" cy="387.6" r="31.6"/><text class="L" transform="translate(952.8 400.6) scale(0.945 1)">A</text>
<circle fill="#fff" cx="348.9" cy="323.25" r="35.5"/><circle class="c" cx="348.9" cy="323.25" r="31.6"/><text class="L" transform="translate(348.9 337.75) scale(0.945 1)">H</text>
<circle fill="#fff" cx="1331.8" cy="386" r="35.5"/><circle class="c" cx="1331.8" cy="386" r="31.6"/><text class="L" transform="translate(1332.2 400.8) scale(0.945 1)">C</text>
<circle fill="#fff" cx="1449.6" cy="117.9" r="35.5"/><circle class="c" cx="1449.6" cy="117.9" r="31.6"/><text class="L" transform="translate(1449.9 134) scale(0.945 1)">F</text>
<circle fill="#fff" cx="1544.6" cy="215.7" r="35.5"/><circle class="c" cx="1544.6" cy="215.7" r="31.6"/><text class="L" transform="translate(1544.4 230.2) scale(0.945 1)">G</text>
</g>
<!-- labels -->
<g id="labels" filter="url(#gs)">
<text class="lb" x="464.3" y="824.5">1400mm</text>
<text class="lb" x="691.5" y="824.5">36"</text>
<text class="lb" x="757.5" y="824.5">30"</text>
<text class="lb" x="819.5" y="824.5">22"</text>
<text class="lb" x="864.5" y="824.5">20"</text>
<text class="lb" x="1389.5" y="824.5">34"</text>
<text class="lb" x="1440" y="824.5">38"</text>
<text class="lb" x="1480.5" y="824.5">40"</text>
</g>
</svg>
</body>
</html>
